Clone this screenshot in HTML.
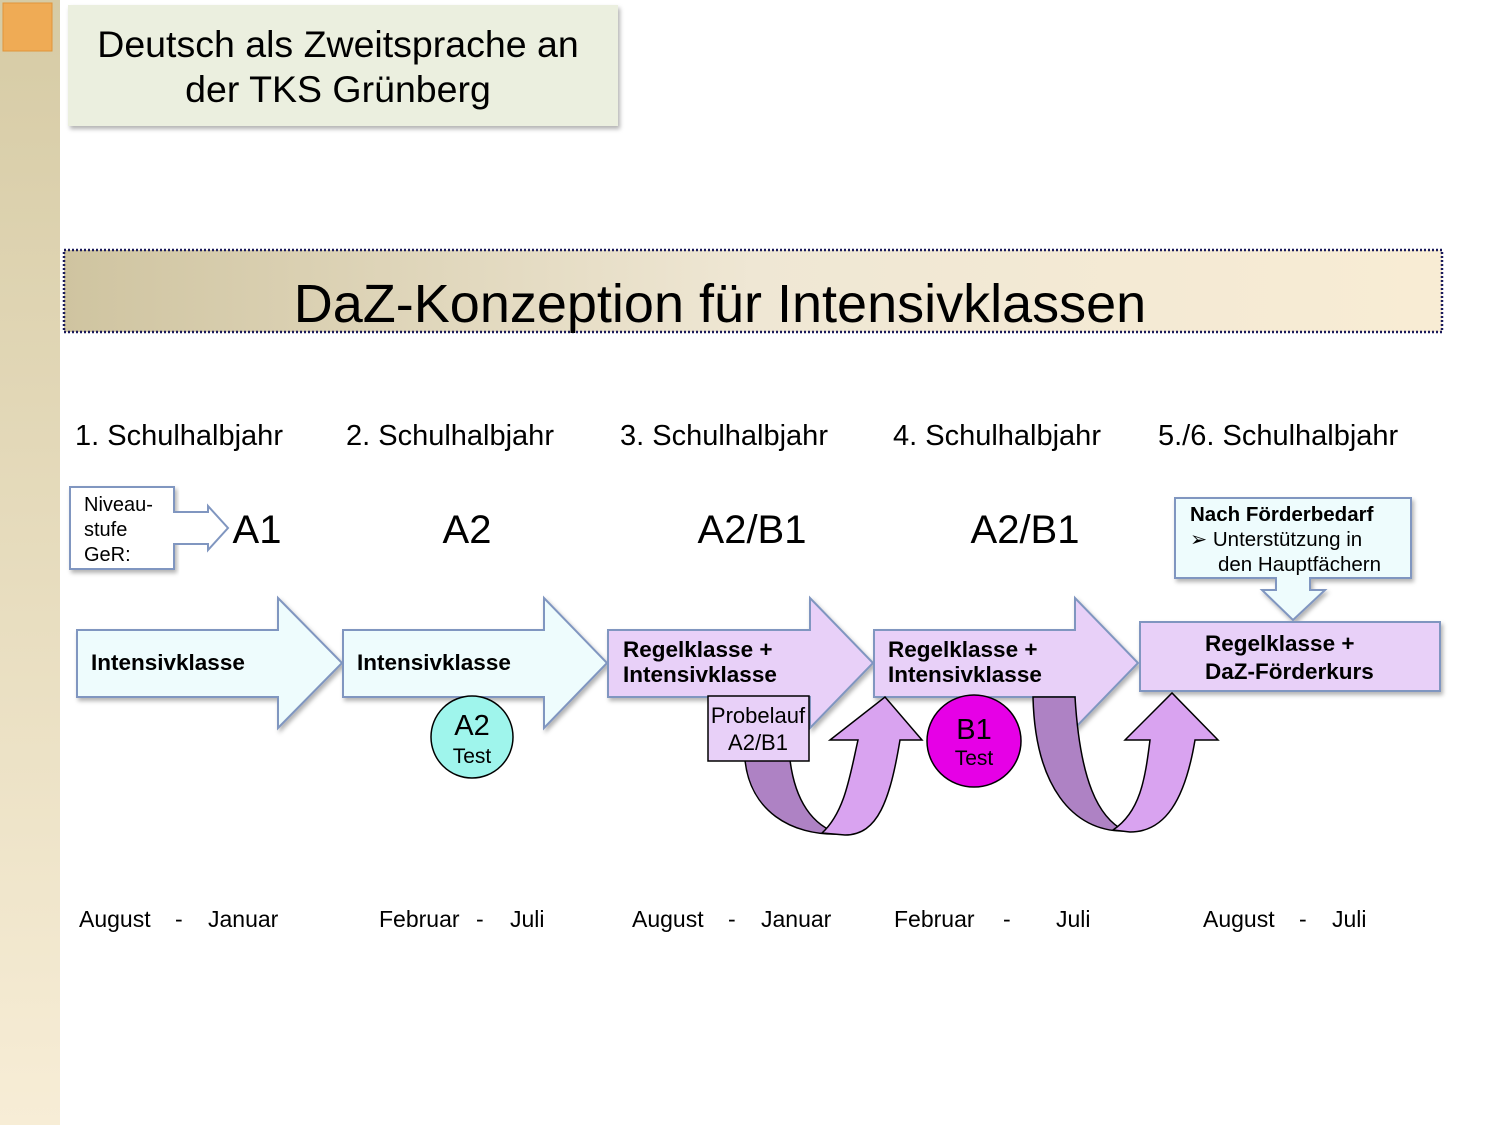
<!DOCTYPE html>
<html><head><meta charset="utf-8"><style>
html,body{margin:0;padding:0;background:#fff;}
svg{display:block;}
text{font-family:"Liberation Sans",Arial,sans-serif;}
</style></head><body>
<svg width="1500" height="1125" viewBox="0 0 1500 1125" xmlns="http://www.w3.org/2000/svg">
<defs>
<linearGradient id="side" x1="0" y1="0" x2="0" y2="1">
<stop offset="0" stop-color="#d6cba5"/><stop offset="1" stop-color="#f7edd6"/></linearGradient>
<linearGradient id="ban" x1="0" y1="0" x2="1" y2="0">
<stop offset="0" stop-color="#cfc4a0"/><stop offset="0.5" stop-color="#efe7d4"/><stop offset="1" stop-color="#f8ecd4"/></linearGradient>
<filter id="sh" x="-5%" y="-5%" width="110%" height="120%"><feDropShadow dx="2" dy="3" stdDeviation="2" flood-color="#000" flood-opacity="0.3"/></filter>
</defs>
<rect x="0" y="0" width="60" height="1125" fill="url(#side)"/>
<rect x="3" y="3" width="49" height="48" fill="#efab55" stroke="#e0953a" stroke-width="1"/>

<rect x="68" y="5" width="550" height="121" fill="#ebefdf" filter="url(#sh)"/>
<text x="338" y="57" font-size="37.5" text-anchor="middle" fill="#000">Deutsch als Zweitsprache an</text>
<text x="338" y="102" font-size="37.5" text-anchor="middle" fill="#000">der TKS Grünberg</text>

<rect x="64" y="250" width="1378" height="82" fill="url(#ban)" stroke="#1a1a5a" stroke-width="2.5" stroke-dasharray="2,2"/>
<text x="720" y="322" font-size="54" text-anchor="middle" fill="#000">DaZ-Konzeption für Intensivklassen</text>

<g font-size="29" fill="#000">
<text x="75" y="445">1. Schulhalbjahr</text>
<text x="346" y="445">2. Schulhalbjahr</text>
<text x="620" y="445">3. Schulhalbjahr</text>
<text x="893" y="445">4. Schulhalbjahr</text>
<text x="1158" y="445">5./6. Schulhalbjahr</text>
</g>

<!-- Niveau box -->
<rect x="70" y="487" width="104" height="82" fill="#fff" stroke="#8096c0" stroke-width="2" filter="url(#sh)"/>
<path d="M174,512 L208,512 L208,506 L228,528 L208,550 L208,544 L174,544" fill="#fff" stroke="#8096c0" stroke-width="2"/>
<rect x="171" y="513" width="5" height="30" fill="#fff"/>
<g font-size="20" fill="#000"><text x="84" y="511">Niveau-</text><text x="84" y="536">stufe</text><text x="84" y="561">GeR:</text></g>

<g font-size="40" fill="#000" text-anchor="middle">
<text x="257" y="543">A1</text><text x="467" y="543">A2</text><text x="752" y="543">A2/B1</text><text x="1025" y="543">A2/B1</text>
</g>

<!-- callout -->
<path d="M1175,498 L1411,498 L1411,578 L1310,578 L1310,590 L1325,590 L1293,620 L1262,590 L1276,590 L1276,578 L1175,578 Z" fill="#eefcfd" stroke="#8096c0" stroke-width="2" filter="url(#sh)"/>
<text x="1190" y="521" font-size="20.5" font-weight="bold" fill="#000">Nach Förderbedarf</text>
<text x="1190" y="546" font-size="20.5" fill="#000">➢  Unterstützung in</text>
<text x="1218" y="571" font-size="20.5" fill="#000">den Hauptfächern</text>

<!-- block arrows -->
<g stroke="#8096c0" stroke-width="2" filter="url(#sh)">
<path d="M77,630 L278,630 L278,598 L342,663 L278,728 L278,697 L77,697 Z" fill="#eefcfd"/>
<path d="M343,630 L544,630 L544,598 L607,663 L544,728 L544,697 L343,697 Z" fill="#eefcfd"/>
<path d="M608,630 L810,630 L810,598 L873,663 L810,728 L810,697 L608,697 Z" fill="#e8d0f8"/>
<path d="M874,630 L1075,630 L1075,598 L1138,663 L1075,728 L1075,697 L874,697 Z" fill="#e8d0f8"/>
<rect x="1140" y="622" width="300" height="69" fill="#e8d0f8"/>
</g>
<g font-size="22.5" font-weight="bold" fill="#000">
<text x="91" y="670">Intensivklasse</text>
<text x="357" y="670">Intensivklasse</text>
<text x="623" y="657">Regelklasse +</text><text x="623" y="682">Intensivklasse</text>
<text x="888" y="657">Regelklasse +</text><text x="888" y="682">Intensivklasse</text>
<text x="1205" y="651">Regelklasse +</text><text x="1205" y="679">DaZ-Förderkurs</text>
</g>

<!-- A2 test -->
<circle cx="472" cy="737" r="41" fill="#9ff5ec" stroke="#000" stroke-width="1.5"/>
<text x="472" y="735" font-size="29" text-anchor="middle">A2</text>
<text x="472" y="763" font-size="21" text-anchor="middle">Test</text>

<!-- U-turn 1 -->
<path d="M745,760 L790,760 C795,800 812,826 840,834 C790,836 750,810 745,760 Z" fill="#ae82c4" stroke="#000" stroke-width="1.5"/>
<path d="M822,833 C845,812 850,775 858,740 L830,740 L885,697 L922,740 L900,740 C890,800 878,835 845,835 Z" fill="#d9a3f0" stroke="#000" stroke-width="1.5"/>
<rect x="708" y="696" width="101" height="65" fill="#e8d0f8" stroke="#000" stroke-width="1.5"/>
<text x="758" y="723" font-size="22" text-anchor="middle">Probelauf</text>
<text x="758" y="750" font-size="22" text-anchor="middle">A2/B1</text>

<!-- B1 test -->
<ellipse cx="974" cy="741" rx="47" ry="46" fill="#e600e6" stroke="#000" stroke-width="1.5"/>
<text x="974" y="739" font-size="29" text-anchor="middle">B1</text>
<text x="974" y="765" font-size="21" text-anchor="middle">Test</text>

<!-- U-turn 2 -->
<path d="M1033,697 L1075,697 C1080,780 1098,818 1125,831 C1072,832 1035,785 1033,697 Z" fill="#ae82c4" stroke="#000" stroke-width="1.5"/>
<path d="M1113,830 C1140,812 1145,780 1150,740 L1125,740 L1172,693 L1218,740 L1195,740 C1185,800 1165,832 1130,832 Z" fill="#d9a3f0" stroke="#000" stroke-width="1.5"/>

<g font-size="23" fill="#000">
<text x="79" y="927">August</text><text x="175" y="927">-</text><text x="208" y="927">Januar</text>
<text x="379" y="927">Februar</text><text x="476" y="927">-</text><text x="510" y="927">Juli</text>
<text x="632" y="927">August</text><text x="728" y="927">-</text><text x="761" y="927">Januar</text>
<text x="894" y="927">Februar</text><text x="1003" y="927">-</text><text x="1056" y="927">Juli</text>
<text x="1203" y="927">August</text><text x="1299" y="927">-</text><text x="1332" y="927">Juli</text>
</g>
</svg>
</body></html>
